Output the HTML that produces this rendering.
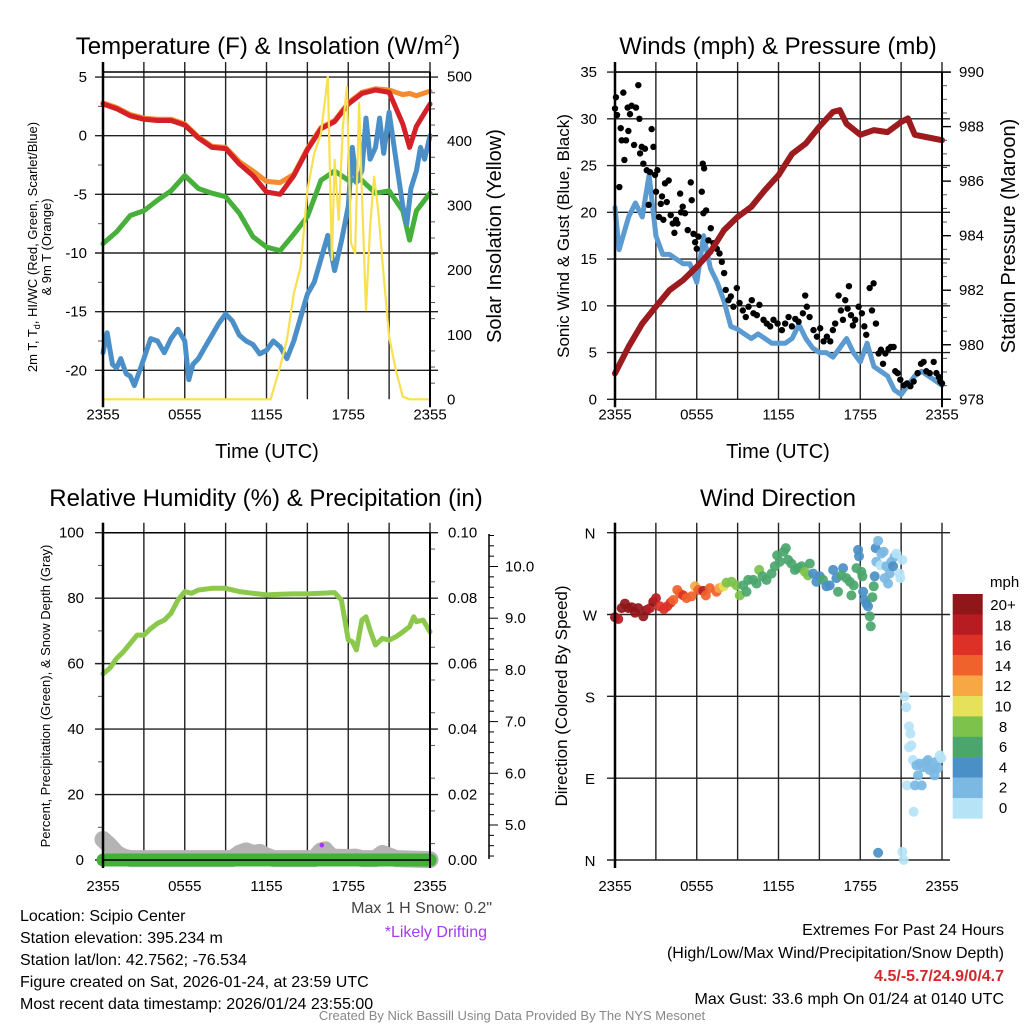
<!DOCTYPE html>
<html><head><meta charset="utf-8">
<style>
html,body{margin:0;padding:0;background:#fff;}
svg{display:block;font-family:"Liberation Sans",Arial,sans-serif;}
</style></head>
<body>
<svg id="fig" width="1024" height="1024" viewBox="0 0 1024 1024" xmlns="http://www.w3.org/2000/svg">
<rect x="0" y="0" width="1024" height="1024" fill="#fff"/>
<text x="268" y="54" font-size="24" text-anchor="middle">Temperature (F) &amp; Insolation (W/m<tspan dy="-9" font-size="15">2</tspan><tspan dy="9">)</tspan></text>
<text x="778" y="54" font-size="24" text-anchor="middle">Winds (mph) &amp; Pressure (mb)</text>
<text x="266" y="506" font-size="24" text-anchor="middle">Relative Humidity (%) &amp; Precipitation (in)</text>
<text x="778" y="506" font-size="24" text-anchor="middle">Wind Direction</text>
<text x="267" y="458" font-size="20" text-anchor="middle">Time (UTC)</text>
<text x="778" y="458" font-size="20" text-anchor="middle">Time (UTC)</text>
<text transform="translate(37,247) rotate(-90)" font-size="13" text-anchor="middle">2m T, T<tspan font-size="9" dy="3">d</tspan><tspan dy="-3">, HI/WC (Red, Green, Scarlet/Blue)</tspan></text>
<text transform="translate(51,247) rotate(-90)" font-size="13" text-anchor="middle">&amp; 9m T (Orange)</text>
<text transform="translate(501,236) rotate(-90)" font-size="20" text-anchor="middle">Solar Insolation (Yellow)</text>
<text transform="translate(569,236) rotate(-90)" font-size="17" text-anchor="middle">Sonic Wind &amp; Gust (Blue, Black)</text>
<text transform="translate(1015,236) rotate(-90)" font-size="20" text-anchor="middle">Station Pressure (Maroon)</text>
<text transform="translate(50,696) rotate(-90)" font-size="13" text-anchor="middle">Percent, Precipitation (Green), &amp; Snow Depth (Gray)</text>
<text transform="translate(567,696) rotate(-90)" font-size="17" text-anchor="middle">Direction (Colored By Speed)</text>
<g font-size="16">
<text x="20" y="921">Location: Scipio Center</text>
<text x="20" y="943">Station elevation: 395.234 m</text>
<text x="20" y="965">Station lat/lon: 42.7562; -76.534</text>
<text x="20" y="987">Figure created on Sat, 2026-01-24, at 23:59 UTC</text>
<text x="20" y="1009">Most recent data timestamp: 2026/01/24 23:55:00</text>
</g>
<text x="492" y="913" font-size="16" fill="#444" text-anchor="end">Max 1 H Snow: 0.2"</text>
<text x="487" y="937" font-size="16" fill="#a33cf0" text-anchor="end">*Likely Drifting</text>
<text x="1004" y="935" font-size="16" text-anchor="end">Extremes For Past 24 Hours</text>
<text x="1004" y="958" font-size="16" text-anchor="end">(High/Low/Max Wind/Precipitation/Snow Depth)</text>
<text x="1004" y="981" font-size="16" font-weight="bold" fill="#d7262b" text-anchor="end">4.5/-5.7/24.9/0/4.7</text>
<text x="1004" y="1004" font-size="16" text-anchor="end">Max Gust: 33.6 mph On 01/24 at 0140 UTC</text>
<text x="512" y="1020" font-size="13" fill="#888" text-anchor="middle">Created By Nick Bassill Using Data Provided By The NYS Mesonet</text>
</svg>
<script>
// ---- Panel 1 data ----
const hours = [0,1,2,3,4,5,6,7,8,9,10,11,12,13,14,15,16,17,18,19,20,21,22,22.5,23,24];
const tempRed = [2.7,2.3,1.7,1.4,1.3,1.3,0.9,-0.2,-1.0,-1.1,-2.4,-3.4,-4.8,-5.0,-3.4,-1.2,0.6,1.2,2.7,3.6,3.9,3.7,1.0,-1.0,0.8,2.7];
const temp9m = [2.8,2.4,1.8,1.5,1.4,1.4,1.0,-0.1,-0.9,-1.0,-2.2,-3.0,-3.9,-4.0,-3.3,-1.1,0.7,1.3,2.8,3.7,4.0,3.9,3.5,3.6,3.4,3.8];
const dewGreen = [-9.2,-8.2,-6.8,-6.4,-5.5,-4.7,-3.4,-4.5,-4.9,-5.2,-6.6,-8.6,-9.5,-9.8,-8.4,-6.9,-3.8,-3.0,-3.8,-3.8,-4.9,-4.7,-6.4,-8.9,-6.4,-4.9];
const wcHours = [0,0.3,0.7,1,1.3,1.7,2,2.3,2.7,3,3.5,4,4.5,5,5.5,6,6.3,6.6,7,7.5,8,8.5,9,9.5,10,10.5,11,11.5,12,12.5,13,13.5,14,14.5,15,15.5,16,16.5,17,17.5,18,18.3,18.6,19,19.3,19.6,20,20.3,20.6,21,21.5,22,22.3,22.6,23,23.3,23.6,24];
const wcBlue = [-18.5,-16.8,-19.5,-19.8,-19.0,-20.3,-20.5,-21.3,-20.0,-19.0,-17.3,-17.5,-18.5,-17.3,-16.5,-17.5,-20.8,-19.5,-19.0,-18.0,-17.0,-16.0,-15.2,-15.8,-17.0,-17.5,-17.8,-18.6,-18.3,-17.5,-18.0,-19.0,-17.5,-15.5,-13.5,-12.5,-10.5,-8.5,-11.5,-9.0,-6.0,-1.0,-4.0,-3.0,1.5,-2.0,-1.0,1.5,-1.5,2.0,-2.0,-6.0,-7.5,-4.5,-3.0,-1.0,-2.0,0.0];
const solarHours = [0,12.3,13,13.5,14,14.5,15,15.5,16,16.5,16.8,17,17.3,17.6,17.9,18.2,18.5,18.8,19,19.3,19.6,19.9,20.2,20.5,21,21.5,22,22.5,24];
const solar = [0,0,50,92,164,205,324,381,412,500,216,371,278,422,484,242,226,459,319,138,267,345,293,216,97,45,4,0,0];
// ---- Panel 2 data ----
const presHours = [0,1,2,3,4,5,6,7,8,9,10,11,12,13,14,15,16,16.5,17,18,19,20,21,21.5,22,23,24];
const pressure = [978.95,979.93,980.78,981.4,982.0,982.37,982.86,983.41,984.2,984.69,985.06,985.67,986.22,987.0,987.38,988.0,988.54,988.6,988.1,987.7,987.87,987.8,988.17,988.3,987.7,987.6,987.5];
const windHours = [0,0.3,1,1.5,2,2.5,3,3.5,4,4.5,5,5.5,6,6.5,7,7.5,8,8.5,9,9.5,10,10.5,11,11.5,12,12.5,13,13.5,14,14.5,15,15.5,16,16.5,17,17.5,18,18.5,19,19.5,20,20.5,21,21.5,22,22.5,23,23.5,24];
const windSpeed = [20.5,16,19.5,21,19.5,24,17.5,15.5,15.5,15,14.5,14.5,12.5,17.5,14.0,12.5,10.5,7.8,7.5,7.0,6.5,7.0,6.5,6.0,6.0,6.0,6.5,8.0,6.5,5.5,5.0,5.0,4.5,5.5,6.5,5.0,4.0,6.0,3.5,3.0,2.5,1.0,0.5,1.5,2.5,3.0,2.5,2.0,1.5];
const gustHours = [0,0.07,0.15,0.32,0.42,0.49,0.61,0.69,0.81,0.93,0.98,1.10,1.22,1.40,1.54,1.71,1.79,1.84,1.96,2.08,2.20,2.33,2.47,2.57,2.69,2.82,2.94,3.01,3.11,3.23,3.36,3.45,3.55,3.67,3.80,3.94,4.09,4.24,4.36,4.48,4.58,4.78,4.85,4.97,5.14,5.34,5.56,5.63,5.76,5.88,6.00,6.12,6.37,6.44,6.54,6.49,6.69,6.86,7.03,7.23,7.47,7.67,7.84,8.01,8.13,8.33,8.50,8.69,8.94,9.14,9.38,9.60,9.80,10.04,10.16,10.41,10.60,10.90,11.14,11.39,11.63,11.93,12.25,12.49,12.74,12.98,13.23,13.47,13.79,13.96,14.08,14.28,14.57,14.82,15.06,15.31,15.55,15.80,15.99,16.16,16.41,16.58,16.73,16.90,17.07,17.17,17.32,17.46,17.63,17.88,18.12,18.30,18.44,18.69,18.86,18.98,19.15,19.35,19.52,19.67,19.84,20.08,20.25,20.45,20.57,20.74,20.94,21.19,21.43,21.68,21.92,22.21,22.46,22.65,22.85,23.10,23.39,23.59,23.76,23.88,24];
const gusts = [31.1,32.3,30.4,22.7,29,27.7,32.8,25.6,27.7,31.2,28.7,30.5,31.4,27.2,31.2,33.6,30,26.3,27,25.2,26.8,24.5,20.8,24.3,28.9,27,24,22.2,24.5,19.5,20.9,21.7,19.2,23.1,21.1,23.4,19.7,18.8,17.8,19.2,18.8,22,20,20.6,19.9,18.1,23.2,21.3,17.7,16.8,16.1,17.4,22.2,25.2,24.7,19.9,20.2,17,18.3,16.7,16.1,15.6,14.7,13.5,11.7,10.6,11,9.9,11.9,10.3,9.5,8.8,9.9,10.6,9.2,9,10.1,8.5,8.1,7.8,8.5,8.1,7.4,8.1,8.8,7.8,8.6,8.3,9.2,11.1,9.9,8.8,7.4,6.7,7.6,6.2,6.7,6.2,7.4,8.1,11.1,9.5,8.5,10.6,9.7,12.1,9,7.9,8.5,9.9,9.2,7.8,6.9,11.9,9.5,12.4,8.1,4.9,5.3,3.8,4.9,5.4,5.6,5.6,3,2.8,2.1,1.5,1.7,1.4,1.9,2.8,3.8,4,3,2.8,4.0,2.8,2.4,1.9,1.7];
// ---- Panel 3 data ----
const rhHours = [0,0.5,1,1.5,2,2.5,3,3.5,4,4.5,5,5.5,6,6.5,7,8,9,10,11,12,13,14,15,16,17,17.5,18,18.3,18.6,19,19.3,19.6,20,20.5,21,21.5,22,22.5,22.8,23,23.5,24];
const rh = [56.9,58.6,61.6,63.6,66.2,68.7,68.7,70.7,72.3,73.3,75.4,79.4,82,81.5,82.5,83,83,82,81.5,81,81.2,81.3,81.3,81.5,81.7,79.4,67.2,66.7,64.2,73.3,74.3,70.2,65.7,67.7,67.2,68.2,69.7,71.3,74.3,72.8,73.3,69.7];
const snowHours = [0,0.5,1,1.5,2,9.5,10,10.5,11,11.5,12,12.5,15.5,16,16.3,16.7,17,18,18.5,19,20,20.5,21,21.5,24];
const snowDepth = [4.72,4.6,4.45,4.38,4.35,4.35,4.45,4.5,4.45,4.47,4.4,4.35,4.35,4.5,4.52,4.4,4.38,4.37,4.38,4.35,4.35,4.45,4.4,4.35,4.33];
const precipHours = [0,24];
const precip = [0,0];
const driftHours = [16.06];
const driftSnow = [4.61];
// ---- Panel 4 data ----
const dirHours = [0,0.24,0.49,0.73,0.98,1.22,1.47,1.71,2.08,2.32,2.57,2.81,3.01,3.30,3.59,3.84,4.08,4.28,4.57,4.77,5.01,5.25,5.62,5.87,6.11,6.48,6.67,6.96,7.45,7.65,7.99,8.19,8.55,8.92,9.16,9.41,9.65,9.78,10.14,10.39,10.58,10.83,11.12,11.49,11.73,11.90,12.10,12.39,12.54,12.71,12.95,13.20,13.44,13.69,13.93,14.30,14.17,14.54,14.78,15.03,15.27,15.52,15.76,16.01,16.25,16.37,16.74,16.62,16.98,17.23,17.35,17.52,17.72,17.84,17.91,18.08,18.16,18.21,18.33,18.45,18.57,18.70,18.77,18.89,18.99,19.06,19.13,19.18,19.31,19.48,19.55,19.72,19.79,19.92,20.04,20.16,20.28,20.41,20.53,20.65,20.89,20.94,21.09,21.26,21.38,21.58,21.68,21.75,21.58,21.87,22.12,22.24,22.36,22.61,22.85,22.97,23.09,23.34,23.46,23.58,23.70,23.83,23.95,21.43,22.02,22.51,21.92,19.31,21.09,21.19];
const dirDeg = [267,265,277,282,277,278,272,277,268,275,277,284,288,279,276,279,283,286,297,293,291,288,290,301,297,296,291,299,295,299,301,305,306,302,291,302,295,308,308,304,319,312,308,315,323,335,328,339,343,330,326,319,321,323,317,326,313,315,306,312,308,301,302,319,310,295,321,313,310,306,291,302,321,341,334,317,312,295,286,282,279,268,257,289,301,312,343,328,351,324,337,339,310,323,304,315,328,323,334,337,315,310,330,180,168,147,139,126,124,110,104,93,106,102,108,110,99,101,93,108,101,115,112,82,82,82,53,8,9,0];
const dirSpeed = [21,19,21,21,21,21,21,21,21,21,19,21,19,17,17,17,17,15,15,15,17,15,15,13,15,19,15,15,15,13,11,9,9,9,9,7,7,7,7,7,9,7,7,7,7,7,7,7,7,7,7,7,7,7,9,7,9,5,5,5,7,5,5,5,5,7,5,7,7,7,7,7,7,5,5,7,7,5,5,5,5,7,7,7,7,5,5,3,3,1,3,3,3,3,3,3,3,5,3,1,1,1,1,1,1,1,1,1,1,1,3,3,3,3,3,3,3,3,3,3,3,1,1,1,3,3,1,5,1,1];
const cbLabels = ["20+","18","16","14","12","10","8","6","4","2","0"];
const cbColors = ["#8f1619","#b81c23","#dc3127","#f0622b","#f7a845","#e6e05a","#7cc24b","#4ba66e","#4a8fc6","#7bb9e3","#b6e3f6"];
const timeTicks = ["2355","0555","1155","1755","2355"];

const NS="http://www.w3.org/2000/svg";
const svg=document.getElementById('fig');
function mk(tag,attrs,parent){const e=document.createElementNS(NS,tag);for(const k in attrs)e.setAttribute(k,attrs[k]);(parent||svg).appendChild(e);return e;}
function grp(name){const g=mk('g',{});


return g;}

const P1={x0:103,x1:430,top:72,bot:399.3,lab:20};
const P2={x0:615,x1:942,top:72,bot:399.3,lab:20};
const P3={x0:103,x1:430,top:532.7,bot:860,lab:31};
const P4={x0:615,x1:942,top:532.7,bot:860,lab:31};
function xT(P,t){return P.x0+t/24*(P.x1-P.x0);}
const y1L=v=>135.7-v*11.73;
const y1R=w=>399.3-w*0.6453;
const y2L=v=>399.3-v*9.35;
const y2R=p=>399.3-(p-978)*27.27;
const y3L=v=>860-v*3.273;
const y3R=p=>860-p*3273;
const y3S=s=>825-(s-5)*51.7;
const y4=d=>860-d*0.9093;

function pathFrom(P,xs,ys,yf){let d='';for(let i=0;i<xs.length;i++){d+=(i?'L':'M')+xT(P,xs[i]).toFixed(1)+','+yf(ys[i]).toFixed(1);}return d;}

function frame(P,name,hVals,yf,extendRight){
  const g=grp(name+'-grid');
  for(let h=0;h<=24;h+=3){
    const l=mk('line',{x1:xT(P,h),x2:xT(P,h),y1:P.top-10,y2:P.bot,stroke:'#222','stroke-width':1.4},g);
    
    
  }
  hVals.forEach(v=>{const y=yf(v);
    const l=mk('line',{x1:P.x0-8,x2:P.x1+(extendRight||8),y1:y,y2:y,stroke:'#222','stroke-width':1.4},g);
    
    
  });
  timeTicks.forEach((s,i)=>{const t=mk('text',{x:xT(P,i*6),y:P.bot+P.lab,'font-size':15,'text-anchor':'middle'},g);t.textContent=s;
    
    
  });
}
function yLabels(vals,yf,x,anchor,fmt,name){
  const g=grp(name);
  vals.forEach(v=>{const t=mk('text',{x:x,y:yf(v)+5,'font-size':15,'text-anchor':anchor},g);t.textContent=fmt(v);
    
    
  });
}
function minorTicks(vals,yf,x,dx){const g=grp('minor-ticks');vals.forEach(v=>{const y=yf(v);const l=mk('line',{x1:x,x2:x+dx,y1:y,y2:y,stroke:'#555','stroke-width':1},g);
  
  });}
function border(P,name){const g=grp(name);
  const a=mk('line',{x1:P.x0,x2:P.x0,y1:P.top-10,y2:P.bot+8,stroke:'#000','stroke-width':2.5},g);
  
  
  const b=mk('line',{x1:P.x1,x2:P.x1,y1:P.top,y2:P.bot+8,stroke:'#000','stroke-width':2},g);
  
  
  const c=mk('line',{x1:P.x0,x2:P.x1,y1:P.top,y2:P.top,stroke:'#000','stroke-width':1.5},g);
  
  
}
function line(P,xs,ys,yf,color,w,name){const p=mk('path',{d:pathFrom(P,xs,ys,yf),fill:'none',stroke:color,'stroke-width':w,'stroke-linejoin':'round','stroke-linecap':'round'});
  
  
  return p;}

// ---- Panel 1 ----
frame(P1,'temperature',[5,0,-5,-10,-15,-20],y1L);
yLabels([5,0,-5,-10,-15,-20],y1L,87,'end',v=>String(v),'temperature-y-ticks');
yLabels([0,100,200,300,400,500],y1R,447,'start',v=>String(v),'insolation-y-ticks');
minorTicks([2.5,-2.5,-7.5,-12.5,-17.5],y1L,P1.x0-5,5);
minorTicks([25,50,75,125,150,175,225,250,275,325,350,375,425,450,475],y1R,P1.x1,5);
line(P1,hours,temp9m,y1L,'#f68a2e',5,'temp-9m-orange-line');
line(P1,hours,tempRed,y1L,'#d42027',5,'temp-2m-red-line');
line(P1,hours,dewGreen,y1L,'#46b03a',5,'dewpoint-green-line');
line(P1,wcHours,wcBlue,y1L,'#4a8fc8',5,'windchill-blue-line');
line(P1,solarHours,solar,y1R,'#f8e04e',2.2,'insolation-yellow-line');
border(P1,'temperature-axes');

// ---- Panel 2 ----
frame(P2,'wind',[0,5,10,15,20,25,30,35],y2L);
yLabels([0,5,10,15,20,25,30,35],y2L,597,'end',v=>String(v),'wind-y-ticks');
yLabels([978,980,982,984,986,988,990],y2R,959,'start',v=>String(v),'pressure-y-ticks');
minorTicks([978.5,979,979.5,980.5,981,981.5,982.5,983,983.5,984.5,985,985.5,986.5,987,987.5,988.5,989,989.5],y2R,P2.x1,5);
const rt=grp('pressure-major-ticks');[978,980,982,984,986,988,990].forEach(v=>{const l=mk('line',{x1:P2.x1,x2:P2.x1+9,y1:y2R(v),y2:y2R(v),stroke:'#000','stroke-width':1.4},rt);
  
  });
line(P2,windHours,windSpeed,y2L,'#5b9bd2',5,'wind-speed-blue-line');
const gg=grp('gust-dots');
gustHours.forEach((t,i)=>{const c=mk('circle',{cx:xT(P2,t),cy:y2L(gusts[i]),r:3.2,fill:'#000'},gg);
  
  });
line(P2,presHours,pressure,y2R,'#9b1b1e',6,'pressure-maroon-line');
border(P2,'wind-axes');

// ---- Panel 3 ----
frame(P3,'humidity',[0,20,40,60,80,100],y3L);
yLabels([0,20,40,60,80,100],y3L,84,'end',v=>String(v),'humidity-y-ticks');
yLabels([0,0.02,0.04,0.06,0.08,0.10],y3R,448,'start',v=>v.toFixed(2),'precip-y-ticks');
minorTicks([10,30,50,70,90],y3L,P3.x0-5,5);
minorTicks([0.005,0.015,0.025,0.035,0.045,0.055,0.065,0.075,0.085,0.095],y3R,P3.x1,5);
const sa=grp('snow-axis');
const sl=mk('line',{x1:489,x2:489,y1:534,y2:859,stroke:'#000','stroke-width':1.5},sa);


for(let s=4.4;s<=10.61;s+=0.2){const maj=Math.abs(s-Math.round(s))<0.01;const l=mk('line',{x1:489,x2:489+(maj?9:5),y1:y3S(s),y2:y3S(s),stroke:'#000','stroke-width':1},sa);
  
  }
yLabels([5,6,7,8,9,10],y3S,505,'start',v=>v.toFixed(1),'snow-y-ticks');
line(P3,snowHours,snowDepth,y3S,'#b4b4b4',17,'snow-depth-gray-line');
line(P3,precipHours,precip,y3R,'#43b138',13,'precip-green-line');
const zl=mk('line',{x1:P3.x0,x2:P3.x1,y1:860,y2:860,stroke:'#000','stroke-width':1.5});


line(P3,rhHours,rh,y3L,'#8cc84b',5,'humidity-green-line');
driftHours.forEach((t,i)=>{const c=mk('circle',{cx:xT(P3,t),cy:y3S(driftSnow[i]),r:2.3,fill:'#b030f0'});
  
  });
border(P3,'humidity-axes');

// ---- Panel 4 ----
frame(P4,'direction',[0,90,180,270,360],y4,8);
const dl=grp('direction-y-ticks');["N","E","S","W","N"].forEach((s,i)=>{const t=mk('text',{x:590,y:y4(i*90)+6,'font-size':15,'text-anchor':'middle'},dl);t.textContent=s;
  
  });
const dg=grp('direction-dots');
dirHours.forEach((t,i)=>{const bin=Math.min(10,Math.floor(dirSpeed[i]/2));const c=mk('circle',{cx:xT(P4,t),cy:y4(dirDeg[i]),r:5,fill:cbColors[10-bin],'fill-opacity':0.92},dg);
  
  });
const bl=mk('line',{x1:P4.x0,x2:P4.x0,y1:P4.top-10,y2:P4.bot+8,stroke:'#000','stroke-width':2.5});


const cb=grp('speed-colorbar');
const cbt=mk('text',{x:990,y:587,'font-size':15},cb);cbt.textContent='mph';


cbColors.forEach((c,i)=>{const r=mk('rect',{x:952.7,y:594+i*20.4,width:30,height:20.6,fill:c},cb);
  
  
  const t=mk('text',{x:1003,y:610+i*20.3,'font-size':15,'text-anchor':'middle'},cb);t.textContent=cbLabels[i];
  
  });
</script>
</body></html>
